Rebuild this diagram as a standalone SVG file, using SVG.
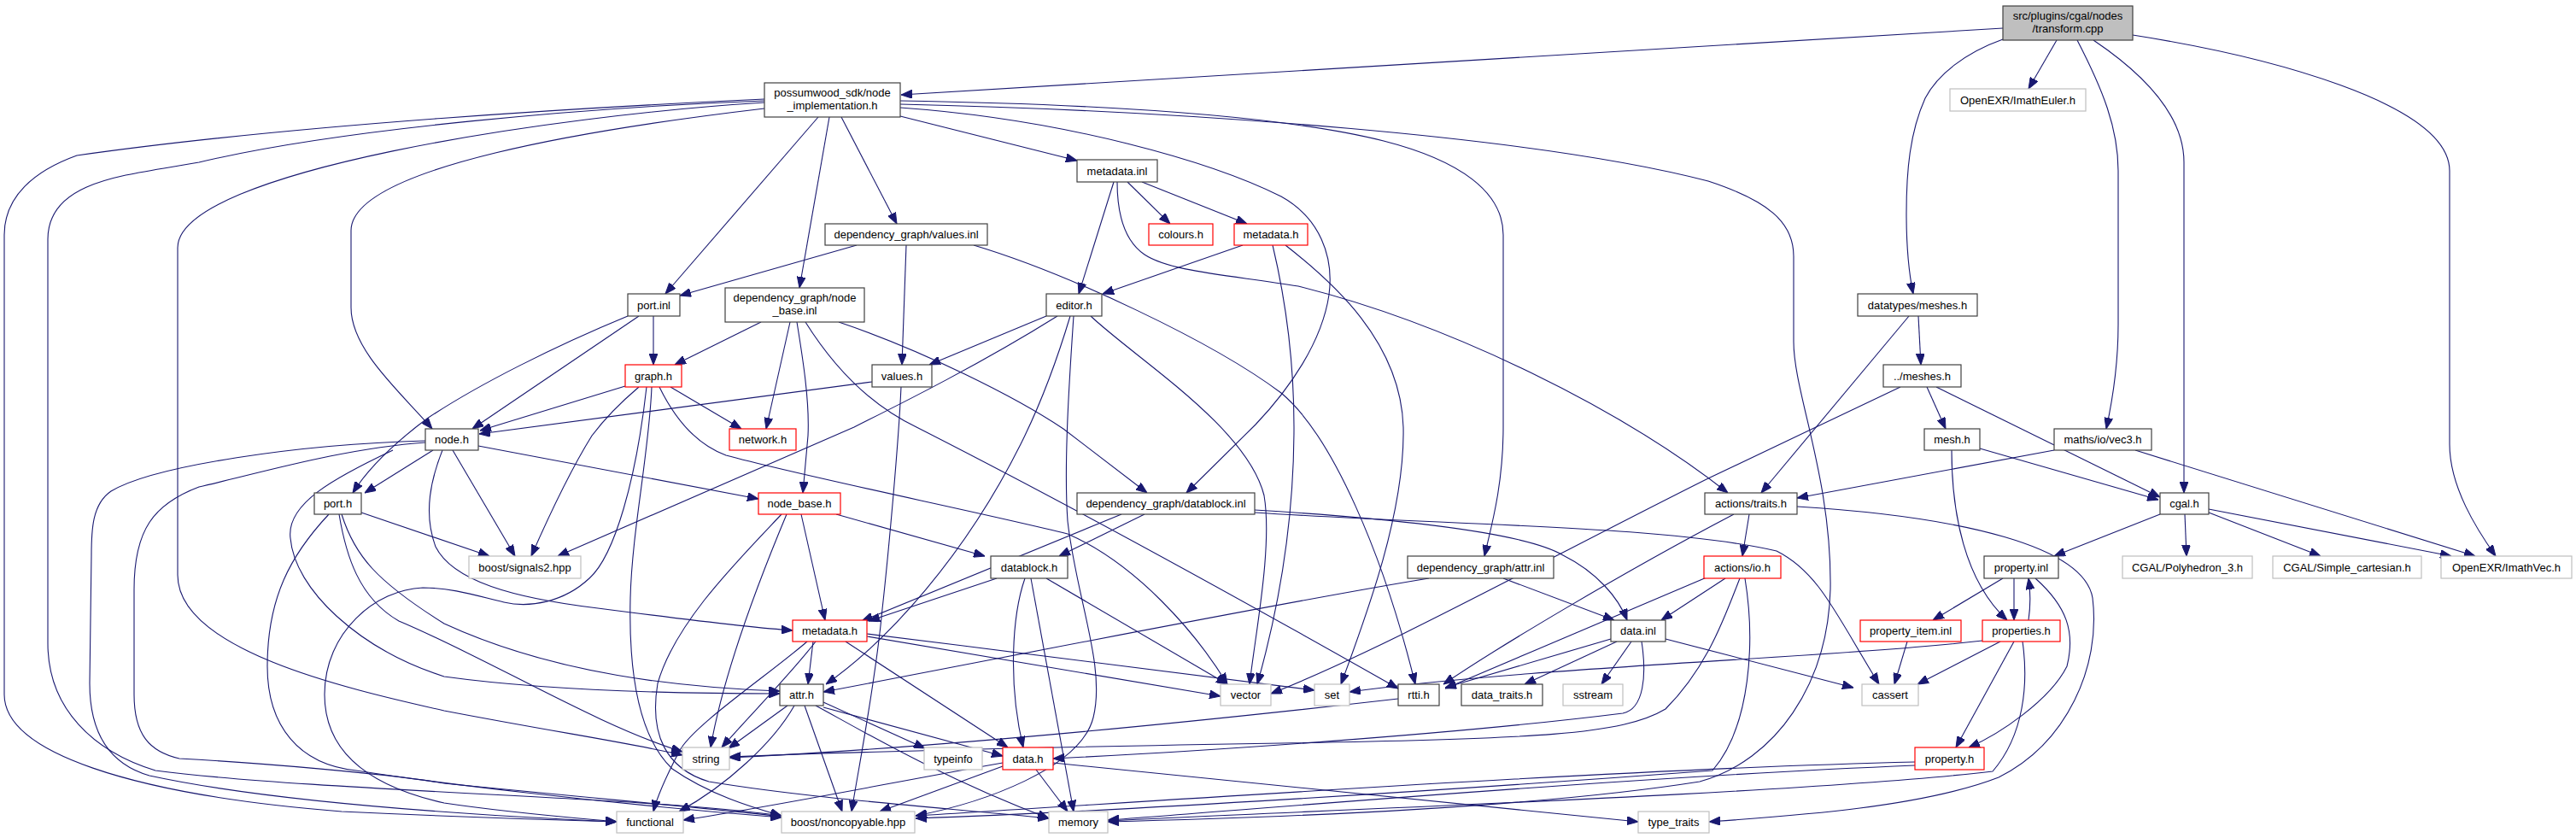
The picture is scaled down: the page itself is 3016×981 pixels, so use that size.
<svg xmlns="http://www.w3.org/2000/svg" width="3016" height="981" viewBox="0 0 3016 981">
<defs>
<marker id="a" markerUnits="userSpaceOnUse" viewBox="0 0 13 10" refX="13" refY="5" markerWidth="13" markerHeight="10" orient="auto"><path d="M0,0L13,5L0,10z" fill="#191970" stroke="#191970" stroke-width="1"/></marker>
<style>
.n rect{fill:#fff;stroke:#404040;stroke-width:1.2}
.n.g rect{stroke:#bfbfbf}
.n.r rect{stroke:#ff0000}
.n.root rect{fill:#bfbfbf;stroke:#404040}
.n text{font-family:"Liberation Sans",Arial,Helvetica,sans-serif;font-size:13px;text-anchor:middle;fill:#000}
#edges path{fill:none;stroke:#191970;stroke-width:1.1;marker-end:url(#a)}
</style>
</defs>
<rect width="3016" height="981" fill="#fff"/>
<g id="edges">
<path d="M2345,33 L1055,111"/>
<path d="M2408,47 L2375,104"/>
<path d="M2345,46 C2300,62 2268,88 2254,115 C2236,155 2232,200 2232,250 C2232,290 2235,320 2240,344"/>
<path d="M2432,47 C2462,105 2480,150 2480,200 L2480,380 C2480,430 2473,470 2466,502"/>
<path d="M2451,47 C2500,80 2557,130 2557,190 L2557,577"/>
<path d="M2497,41 C2650,65 2868,120 2868,200 L2868,520 C2868,570 2900,620 2922,651"/>
<path d="M895,116 C700,125 350,145 90,182 C40,200 5,230 5,275 L5,813 C5,880 150,930 400,950 C550,957 650,960 722,962"/>
<path d="M895,118 C700,125 400,150 233,190 C150,205 56,210 56,280 L56,753 C56,830 110,880 182,902 C320,920 600,930 750,940 C830,945 880,950 915,955"/>
<path d="M895,120 C650,135 208,200 208,290 L208,673 C208,760 400,805 520,832 C650,857 740,870 799,884"/>
<path d="M895,127 C700,150 411,195 411,270 L411,360 C411,410 470,460 506,502"/>
<path d="M958,137 L779,344"/>
<path d="M971,137 L936,337"/>
<path d="M985,137 L1050,262"/>
<path d="M1054,136 L1261,188"/>
<path d="M1054,126 C1250,140 1420,190 1500,230 C1545,255 1562,300 1556,345 C1548,400 1510,455 1470,497 L1389,577"/>
<path d="M1054,118 C1300,122 1500,135 1620,165 C1710,188 1760,225 1760,275 L1760,500 C1760,570 1745,620 1738,651"/>
<path d="M1054,122 C1400,130 1800,160 2000,212 C2070,235 2100,260 2100,300 L2100,400 C2100,460 2145,560 2143,690 C2140,800 2080,890 1990,915 C1800,945 1500,957 1297,962"/>
<path d="M735,370 C650,405 560,450 500,490 C460,520 430,550 413,577"/>
<path d="M748,370 L553,502"/>
<path d="M765,370 L765,427"/>
<path d="M891,377 L790,427"/>
<path d="M925,377 L897,502"/>
<path d="M933,377 C940,420 948,470 946,510 L940,577"/>
<path d="M982,377 C1080,410 1190,465 1245,502 L1343,577"/>
<path d="M943,377 C970,420 1010,470 1073,500 C1250,590 1450,700 1637,806"/>
<path d="M732,452 L562,504"/>
<path d="M748,453 C728,470 708,490 693,510 C665,555 640,610 622,651"/>
<path d="M785,453 L868,502"/>
<path d="M772,453 C790,490 815,520 850,533 C950,560 1150,600 1250,625 C1330,660 1400,740 1437,801"/>
<path d="M763,453 C760,530 740,620 738,700 C736,780 745,860 787,900 C830,930 880,945 915,955"/>
<path d="M757,453 C745,560 720,650 690,677 C660,705 620,712 590,705 C560,698 530,688 495,688 C440,690 380,740 380,813 C380,880 430,920 520,940 C600,952 680,958 722,962"/>
<path d="M1003,287 L796,346"/>
<path d="M1061,287 L1056,427"/>
<path d="M1140,287 C1250,320 1420,400 1500,460 C1560,510 1620,650 1657,801"/>
<path d="M1021,447 L561,508"/>
<path d="M1055,453 C1052,520 1040,650 1033,713 C1025,800 1005,900 997,950"/>
<path d="M1225,370 L1088,427"/>
<path d="M1238,370 C1150,425 1060,470 1000,500 L653,651"/>
<path d="M1253,370 C1235,430 1215,480 1195,520 C1130,650 1040,750 967,801"/>
<path d="M1257,370 C1253,430 1245,540 1250,610 C1260,700 1295,780 1280,840 C1265,900 1150,940 1072,955"/>
<path d="M1277,370 C1330,420 1460,500 1480,580 C1490,640 1470,740 1463,801"/>
<path d="M1304,213 L1263,344"/>
<path d="M1320,213 L1370,262"/>
<path d="M1337,213 L1460,262"/>
<path d="M1308,213 C1308,255 1318,283 1340,298 C1370,318 1440,322 1520,335 C1700,380 1900,480 2023,577"/>
<path d="M1455,287 L1291,344"/>
<path d="M1490,287 C1505,350 1515,420 1515,500 C1515,620 1495,720 1472,801"/>
<path d="M1505,287 C1560,330 1640,400 1643,500 C1645,600 1600,720 1570,801"/>
<path d="M507,527 L427,577"/>
<path d="M530,527 L603,651"/>
<path d="M560,522 L888,584"/>
<path d="M498,516 C350,520 180,545 130,575 C108,590 107,620 107,650 L105,800 C105,860 130,895 175,908 C300,935 500,952 722,962"/>
<path d="M498,518 C400,525 300,555 233,570 C180,590 157,620 157,690 L157,813 C157,860 175,880 210,888 C300,893 450,905 520,917 C700,935 850,948 915,956"/>
<path d="M460,527 C390,560 335,590 340,630 C345,690 420,760 520,792 C650,810 820,812 913,812"/>
<path d="M518,527 C505,560 495,600 510,640 C530,680 600,700 700,712 C800,725 880,735 928,738"/>
<path d="M423,600 L573,651"/>
<path d="M400,602 C415,650 440,680 520,730 C650,790 800,805 913,809"/>
<path d="M397,602 C405,650 420,700 467,727 C570,770 700,850 799,880"/>
<path d="M385,602 C340,650 313,700 313,780 C313,850 350,895 417,902 C500,915 700,940 915,957"/>
<path d="M952,751 L946,801"/>
<path d="M955,751 C925,790 880,835 845,875"/>
<path d="M945,751 C900,790 810,850 795,880 C782,905 770,930 765,950"/>
<path d="M990,751 L1180,875"/>
<path d="M1015,745 L1429,815"/>
<path d="M1015,742 C1200,765 1400,790 1539,808"/>
<path d="M922,826 L853,876"/>
<path d="M930,826 C905,870 850,920 795,950"/>
<path d="M942,826 L986,950"/>
<path d="M964,822 L1083,876"/>
<path d="M964,828 L1174,885"/>
<path d="M955,826 C1000,850 1100,910 1228,958"/>
<path d="M1313,602 L1009,727"/>
<path d="M1340,602 L1240,651"/>
<path d="M1469,597 C1600,605 1780,620 1830,650 C1870,670 1895,700 1905,726"/>
<path d="M1469,600 C1700,615 1950,615 2080,645 C2130,670 2150,720 2200,801"/>
<path d="M1167,677 L1017,727"/>
<path d="M1200,677 C1185,720 1180,800 1198,875"/>
<path d="M1207,677 L1257,950"/>
<path d="M1225,677 L1437,801"/>
<path d="M979,602 L1153,651"/>
<path d="M938,602 L966,726"/>
<path d="M921,602 C880,700 845,800 832,875"/>
<path d="M915,602 C860,660 790,730 770,800 C760,860 780,900 830,915 C950,935 1100,945 1228,958"/>
<path d="M1174,897 L1030,950"/>
<path d="M1174,893 C1050,915 900,945 800,960"/>
<path d="M1213,901 L1250,950"/>
<path d="M1233,893 C1500,920 1700,940 1918,962"/>
<path d="M1637,818 C1400,845 1100,875 854,887"/>
<path d="M1886,748 L1692,805"/>
<path d="M1893,751 L1785,801"/>
<path d="M1910,751 L1875,801"/>
<path d="M1922,751 C1928,790 1925,830 1900,835 C1700,860 1400,880 1233,888"/>
<path d="M1950,748 L2170,805"/>
<path d="M1673,677 C1500,705 1150,775 964,810"/>
<path d="M1760,677 L1890,726"/>
<path d="M2030,602 C1900,670 1750,760 1690,801"/>
<path d="M2048,602 L2040,651"/>
<path d="M2104,593 C2300,605 2440,640 2450,700 C2460,780 2420,870 2340,910 C2250,945 2100,955 2001,962"/>
<path d="M2020,677 L1945,726"/>
<path d="M1998,676 L1692,806"/>
<path d="M2037,677 C2020,720 2000,780 1950,830 C1900,860 1800,865 1500,870 C1200,875 1000,880 854,886"/>
<path d="M2043,677 C2055,750 2050,850 2005,902 C1700,925 1300,950 1072,958"/>
<path d="M2246,370 L2249,427"/>
<path d="M2235,370 L2062,577"/>
<path d="M2256,453 L2278,502"/>
<path d="M2267,453 L2529,582"/>
<path d="M2225,453 L2000,560 C1800,660 1620,760 1488,812"/>
<path d="M2318,525 L2527,585"/>
<path d="M2285,527 C2285,600 2300,680 2350,726"/>
<path d="M2405,527 L2104,583"/>
<path d="M2500,527 L2898,651"/>
<path d="M2529,602 L2405,651"/>
<path d="M2558,602 L2560,651"/>
<path d="M2586,600 L2717,651"/>
<path d="M2586,596 L2870,651"/>
<path d="M2345,677 L2263,726"/>
<path d="M2358,677 L2358,726"/>
<path d="M2383,677 C2420,710 2430,740 2420,780 C2400,820 2340,860 2305,875"/>
<path d="M2375,726 C2378,705 2377,690 2375,677"/>
<path d="M2342,751 L2245,801"/>
<path d="M2358,751 L2290,875"/>
<path d="M2321,750 C2150,770 1800,780 1580,810"/>
<path d="M2368,751 C2375,800 2370,860 2333,903 C2100,930 1500,950 1297,961"/>
<path d="M2233,751 L2218,801"/>
<path d="M2242,892 C1900,900 1400,935 1072,955"/>
<path d="M2242,896 C1900,910 1500,945 1297,960"/>
</g>
<g id="n_root" class="n root"><rect x="2345" y="7" width="152" height="40"/><text x="2421" y="23">src/plugins/cgal/nodes</text><text x="2421" y="38">/transform.cpp</text></g>
<g id="n_nimpl" class="n"><rect x="895" y="97" width="159" height="40"/><text x="974.5" y="113">possumwood_sdk/node</text><text x="974.5" y="128">_implementation.h</text></g>
<g id="n_euler" class="n g"><rect x="2283" y="104" width="159" height="26"/><text x="2362.5" y="121.5">OpenEXR/ImathEuler.h</text></g>
<g id="n_dmeshes" class="n"><rect x="2175" y="344" width="140" height="26"/><text x="2245" y="361.5">datatypes/meshes.h</text></g>
<g id="n_meshes" class="n"><rect x="2205" y="427" width="91" height="26"/><text x="2250.5" y="444.5">../meshes.h</text></g>
<g id="n_portinl" class="n"><rect x="735" y="344" width="61" height="26"/><text x="765.5" y="361.5">port.inl</text></g>
<g id="n_nbinl" class="n"><rect x="849" y="337" width="163" height="40"/><text x="930.5" y="353">dependency_graph/node</text><text x="930.5" y="368">_base.inl</text></g>
<g id="n_graph" class="n r"><rect x="732" y="427" width="66" height="26"/><text x="765" y="444.5">graph.h</text></g>
<g id="n_valinl" class="n"><rect x="966" y="262" width="190" height="25"/><text x="1061" y="279">dependency_graph/values.inl</text></g>
<g id="n_mdinl" class="n"><rect x="1261" y="187" width="94" height="26"/><text x="1308" y="204.5">metadata.inl</text></g>
<g id="n_colours" class="n r"><rect x="1345" y="262" width="75" height="25"/><text x="1382.5" y="279">colours.h</text></g>
<g id="n_mdh1" class="n r"><rect x="1445" y="262" width="86" height="25"/><text x="1488" y="279">metadata.h</text></g>
<g id="n_editor" class="n"><rect x="1225" y="344" width="65" height="26"/><text x="1257.5" y="361.5">editor.h</text></g>
<g id="n_valh" class="n"><rect x="1021" y="427" width="70" height="26"/><text x="1056" y="444.5">values.h</text></g>
<g id="n_node" class="n"><rect x="498" y="502" width="62" height="25"/><text x="529" y="519">node.h</text></g>
<g id="n_network" class="n r"><rect x="854" y="502" width="78" height="25"/><text x="893" y="519">network.h</text></g>
<g id="n_sig2" class="n g"><rect x="549" y="651" width="131" height="26"/><text x="614.5" y="668.5">boost/signals2.hpp</text></g>
<g id="n_nbh" class="n r"><rect x="888" y="577" width="96" height="25"/><text x="936" y="594">node_base.h</text></g>
<g id="n_mdh2" class="n r"><rect x="928" y="726" width="87" height="25"/><text x="971.5" y="743">metadata.h</text></g>
<g id="n_attr" class="n"><rect x="913" y="801" width="51" height="25"/><text x="938.5" y="818">attr.h</text></g>
<g id="n_string" class="n g"><rect x="799" y="875" width="55" height="26"/><text x="826.5" y="892.5">string</text></g>
<g id="n_functional" class="n g"><rect x="722" y="950" width="78" height="25"/><text x="761" y="967">functional</text></g>
<g id="n_noncopy" class="n g"><rect x="915" y="950" width="156" height="25"/><text x="993" y="967">boost/noncopyable.hpp</text></g>
<g id="n_porth" class="n"><rect x="368" y="577" width="55" height="25"/><text x="395.5" y="594">port.h</text></g>
<g id="n_dbinl" class="n"><rect x="1261" y="577" width="208" height="25"/><text x="1365" y="594">dependency_graph/datablock.inl</text></g>
<g id="n_dbh" class="n"><rect x="1160" y="651" width="90" height="26"/><text x="1205" y="668.5">datablock.h</text></g>
<g id="n_vector" class="n g"><rect x="1429" y="801" width="59" height="25"/><text x="1458.5" y="818">vector</text></g>
<g id="n_typeinfo" class="n g"><rect x="1082" y="875" width="68" height="26"/><text x="1116" y="892.5">typeinfo</text></g>
<g id="n_datah" class="n r"><rect x="1174" y="875" width="59" height="26"/><text x="1203.5" y="892.5">data.h</text></g>
<g id="n_memory" class="n g"><rect x="1228" y="950" width="69" height="25"/><text x="1262.5" y="967">memory</text></g>
<g id="n_attrinl" class="n"><rect x="1648" y="651" width="171" height="26"/><text x="1733.5" y="668.5">dependency_graph/attr.inl</text></g>
<g id="n_datainl" class="n"><rect x="1886" y="726" width="64" height="25"/><text x="1918" y="743">data.inl</text></g>
<g id="n_set" class="n g"><rect x="1539" y="801" width="41" height="25"/><text x="1559.5" y="818">set</text></g>
<g id="n_rtti" class="n"><rect x="1637" y="801" width="48" height="25"/><text x="1661" y="818">rtti.h</text></g>
<g id="n_dtraits" class="n"><rect x="1711" y="801" width="95" height="25"/><text x="1758.5" y="818">data_traits.h</text></g>
<g id="n_sstream" class="n g"><rect x="1830" y="801" width="70" height="25"/><text x="1865" y="818">sstream</text></g>
<g id="n_ttraits" class="n g"><rect x="1918" y="950" width="83" height="25"/><text x="1959.5" y="967">type_traits</text></g>
<g id="n_atraits" class="n"><rect x="1996" y="577" width="108" height="25"/><text x="2050" y="594">actions/traits.h</text></g>
<g id="n_aio" class="n r"><rect x="1995" y="651" width="90" height="26"/><text x="2040" y="668.5">actions/io.h</text></g>
<g id="n_mesh" class="n"><rect x="2253" y="502" width="65" height="25"/><text x="2285.5" y="519">mesh.h</text></g>
<g id="n_vec3" class="n"><rect x="2405" y="502" width="114" height="25"/><text x="2462" y="519">maths/io/vec3.h</text></g>
<g id="n_propinl" class="n"><rect x="2323" y="651" width="87" height="26"/><text x="2366.5" y="668.5">property.inl</text></g>
<g id="n_propitem" class="n r"><rect x="2178" y="726" width="118" height="25"/><text x="2237" y="743">property_item.inl</text></g>
<g id="n_props" class="n r"><rect x="2321" y="726" width="91" height="25"/><text x="2366.5" y="743">properties.h</text></g>
<g id="n_cassert" class="n g"><rect x="2180" y="801" width="66" height="25"/><text x="2213" y="818">cassert</text></g>
<g id="n_proph" class="n r"><rect x="2242" y="875" width="81" height="26"/><text x="2282.5" y="892.5">property.h</text></g>
<g id="n_cgal" class="n"><rect x="2529" y="577" width="57" height="25"/><text x="2557.5" y="594">cgal.h</text></g>
<g id="n_poly" class="n g"><rect x="2485" y="651" width="152" height="26"/><text x="2561" y="668.5">CGAL/Polyhedron_3.h</text></g>
<g id="n_simple" class="n g"><rect x="2661" y="651" width="174" height="26"/><text x="2748" y="668.5">CGAL/Simple_cartesian.h</text></g>
<g id="n_imvec" class="n g"><rect x="2858" y="651" width="153" height="26"/><text x="2934.5" y="668.5">OpenEXR/ImathVec.h</text></g>
</svg>
